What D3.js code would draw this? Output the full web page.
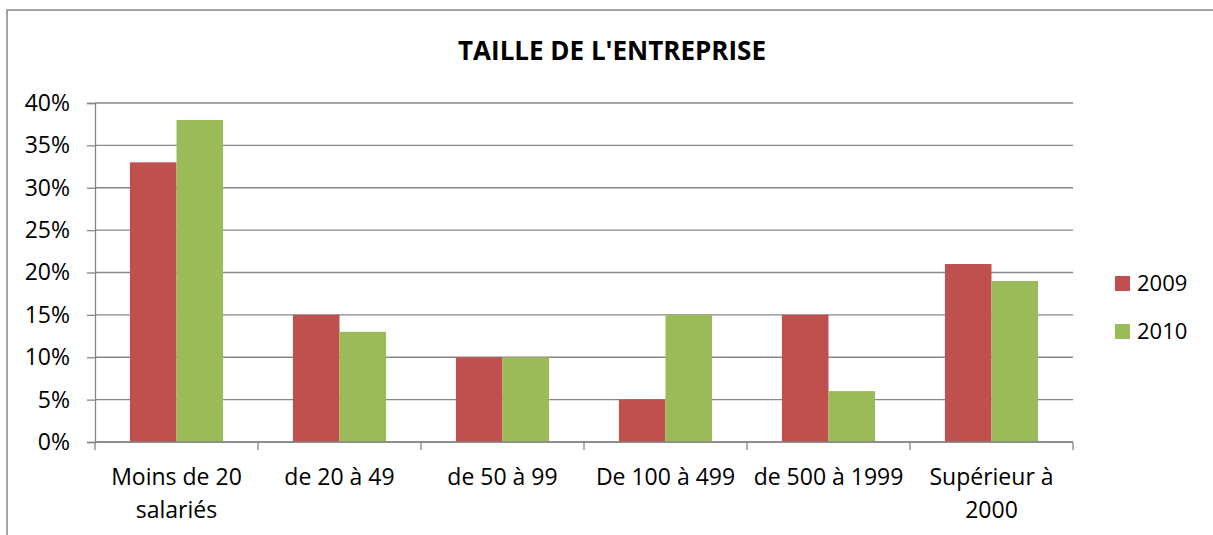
<!DOCTYPE html>
<html>
<head>
<meta charset="utf-8">
<script src="https://cdn.jsdelivr.net/npm/d3@7"></script>
<style>
  body { margin: 0; background: #fff; }
  text { font-family: "Open Sans", sans-serif; fill: #000; }
</style>
</head>
<body>
<div id="chart"></div>
<script>
// Chart data
const categories = [["Moins de 20", "salariés"], ["de 20 à 49"], ["de 50 à 99"], ["De 100 à 499"], ["de 500 à 1999"], ["Supérieur à", "2000"]];
const series = ["2009", "2010"];
const values2009 = [33, 15, 10, 5, 15, 21];
const values2010 = [38, 13, 10, 15, 6, 19];
const yTicks = [0, 5, 10, 15, 20, 25, 30, 35, 40];
const colors = ["#C0504D", "#9BBB59"];

const W = 1213, H = 535;
const plot = { left: 95, right: 1073, top: 103, bottom: 442 };
const fontSize = '23px';

const svg = d3.select('#chart').append('svg')
    .attr('width', W).attr('height', H);

// chart frame
svg.append('rect')
    .attr('x', 7).attr('y', 10).attr('width', 1230).attr('height', 560)
    .attr('fill', 'none').attr('stroke', '#868686').attr('stroke-width', 1.5);

svg.append('text')
    .attr('x', 612).attr('y', 60)
    .attr('text-anchor', 'middle')
    .style('font-size', '26px').style('font-weight', 'bold')
    .text("TAILLE DE L'ENTREPRISE");

const x0 = d3.scaleBand()
    .domain(d3.range(categories.length))
    .range([plot.left, plot.right])
    .paddingInner(0).paddingOuter(0);

// gap width 150%: 0.75 bar width on each side of the pair
const x1 = d3.scaleBand()
    .domain(series)
    .range([0, x0.bandwidth()])
    .paddingOuter(0.75)
    .paddingInner(0);

const y = d3.scaleLinear().domain([0, 40]).range([plot.bottom, plot.top]);

// gridlines
svg.append('g')
    .selectAll('line')
    .data(yTicks)
    .join('line')
    .attr('x1', plot.left).attr('x2', plot.right)
    .attr('y1', d => y(d)).attr('y2', d => y(d))
    .attr('stroke', '#868686').attr('stroke-width', 1.3);

// bars
const data = series.map((s, i) => ({ key: s, values: i === 0 ? values2009 : values2010 }));
data.forEach((s, si) => {
    svg.append('g')
        .selectAll('rect')
        .data(s.values)
        .join('rect')
        .attr('x', (d, i) => x0(i) + x1(s.key))
        .attr('y', d => y(d))
        .attr('width', x1.bandwidth())
        .attr('height', d => y(0) - y(d))
        .attr('fill', colors[si]);
});

// y axis
const yAxis = svg.append('g')
    .attr('transform', `translate(${plot.left},0)`)
    .call(d3.axisLeft(y).tickValues(yTicks).tickFormat(d => d + '%').tickSize(8).tickPadding(17));
yAxis.select('.domain').attr('stroke', '#868686').attr('stroke-width', 1.3);
yAxis.selectAll('.tick line').attr('stroke', '#868686').attr('stroke-width', 1.3);
yAxis.selectAll('.tick text')
    .style('font-size', fontSize).style('font-family', '"Open Sans", sans-serif').attr('fill', '#000');

// x axis line + ticks at band edges
const xg = svg.append('g');
xg.append('line')
    .attr('x1', plot.left).attr('x2', plot.right)
    .attr('y1', plot.bottom).attr('y2', plot.bottom)
    .attr('stroke', '#868686').attr('stroke-width', 1.3);
xg.selectAll('line.tk')
    .data(d3.range(categories.length + 1))
    .join('line')
    .attr('class', 'tk')
    .attr('x1', i => i < categories.length ? x0(i) : plot.right)
    .attr('x2', i => i < categories.length ? x0(i) : plot.right)
    .attr('y1', plot.bottom).attr('y2', plot.bottom + 8)
    .attr('stroke', '#868686').attr('stroke-width', 1.3);

// category labels
categories.forEach((lines, i) => {
    const t = xg.append('text')
        .attr('x', x0(i) + x0.bandwidth() / 2)
        .attr('y', 485)
        .attr('text-anchor', 'middle')
        .style('font-size', fontSize);
    lines.forEach((l, j) => {
        t.append('tspan')
            .attr('x', x0(i) + x0.bandwidth() / 2)
            .attr('dy', j === 0 ? 0 : 33)
            .text(l);
    });
});

// legend
const legend = svg.append('g');
series.forEach((s, i) => {
    legend.append('rect')
        .attr('x', 1115).attr('y', 276 + i * 48)
        .attr('width', 15).attr('height', 15)
        .attr('fill', colors[i]);
    legend.append('text')
        .attr('x', 1137).attr('y', 291 + i * 48)
        .style('font-size', '22px')
        .text(s);
});
</script>
</body>
</html>
